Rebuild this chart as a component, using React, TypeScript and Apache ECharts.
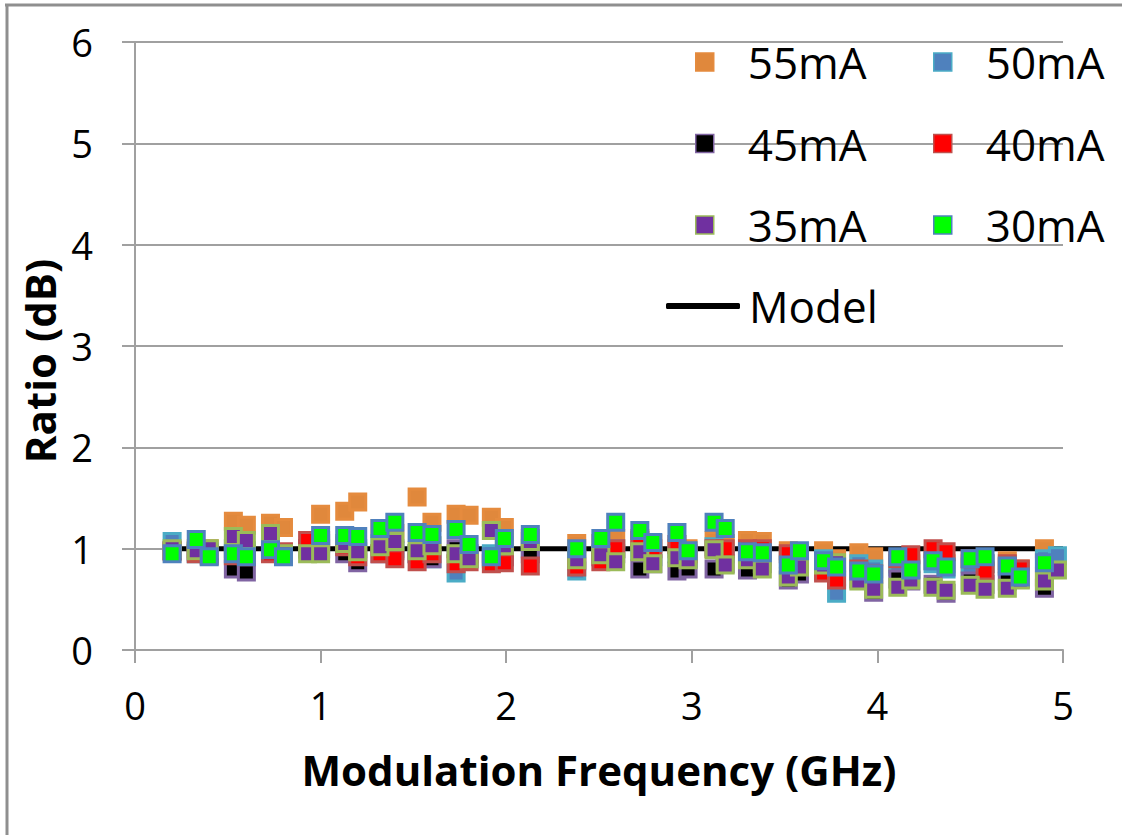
import React, { useEffect, useRef } from "react";
import * as echarts from "echarts";

const freqGHz = [
  0.2, 0.33, 0.4, 0.53, 0.6, 0.73, 0.8, 0.93, 1.0, 1.13, 1.2, 1.32, 1.4, 1.52, 1.6, 1.73, 1.8, 1.92, 1.99, 2.13,
  2.38, 2.51, 2.59, 2.72, 2.79, 2.92, 2.98, 3.12, 3.18, 3.3, 3.38, 3.52, 3.58, 3.71, 3.78, 3.9, 3.98, 4.11, 4.18,
  4.3, 4.37, 4.5, 4.58, 4.7, 4.77, 4.9, 4.97,
];

const ratio55 = [
  0.97, 1.0, 1.0, 1.27, 1.23, 1.25, 1.21, 1.0, 1.34, 1.37, 1.46, 1.2, 1.15, 1.51, 1.26, 1.34, 1.33, 1.31, 1.21, 1.1,
  1.05, 1.05, 1.1, 1.1, 1.05, 1.0, 1.0, 1.08, 1.05, 1.08, 1.07, 0.98, 0.95, 0.98, 0.9, 0.96, 0.92, 0.85, 0.85,
  0.88, 0.85, 0.85, 0.85, 0.88, 0.8, 1.0, null,
];
const ratio50 = [
  1.07, 0.95, 0.97, 1.0, 0.98, 1.02, 0.95, 1.0, 1.05, 1.03, 1.0, 1.05, 1.0, 0.95, 0.9, 0.76, 0.9, 0.95, 0.92, 1.0,
  0.78, 0.95, 1.0, 0.98, 0.92, 0.95, 0.9, 1.02, 0.95, 0.95, 0.92, 0.9, 0.92, 0.9, 0.56, 0.85, 0.8, 0.82, 0.8,
  0.85, 0.8, 0.82, 0.85, 0.82, 0.78, 0.9, 0.93,
];
const ratio45 = [
  0.98, 0.97, 0.95, 0.8, 0.77, 0.97, 0.95, 1.0, 1.0, 0.95, 0.86, 0.95, 0.98, 0.95, 0.9, 1.0, 0.95, 0.9, 0.92, 0.95,
  0.88, 0.92, 0.95, 0.8, 0.85, 0.78, 0.8, 0.8, 0.85, 0.79, 0.85, 0.69, 0.75, 0.78, 0.72, 0.7, 0.57, 0.7, 0.68,
  0.65, 0.56, 0.68, 0.65, 0.68, 0.7, 0.61, null,
];
const ratio40 = [
  0.98, 0.95, 0.93, 0.93, 0.92, 0.95, 0.97, 1.08, 1.08, 1.02, 0.92, 0.95, 0.9, 0.87, 0.95, 0.85, 0.87, 0.85, 0.86, 0.83,
  0.82, 0.87, 1.0, 1.08, 1.0, 1.04, 0.95, 1.0, 1.0, 1.0, 1.0, 0.95, 0.9, 0.76, 0.69, 0.8, 0.75, 0.9, 0.94,
  1.0, 0.97, 0.9, 0.78, 0.85, 0.8, 0.72, null,
];
const ratio35 = [
  1.0, 0.98, 1.0, 1.12, 1.08, 1.15, 0.95, 0.95, 0.95, 1.05, 0.97, 1.02, 1.07, 0.98, 1.03, 0.95, 0.9, 1.18, 1.03, 1.07,
  0.89, 0.94, 0.87, 0.97, 0.85, 0.91, 0.89, 0.99, 0.84, 0.89, 0.8, 0.72, 0.82, 0.84, 0.86, 0.68, 0.6, 0.62, 0.69,
  0.62, 0.59, 0.64, 0.6, 0.61, 0.69, 0.68, 0.79,
];
const ratio30 = [
  0.95, 1.09, 0.92, 0.95, 0.92, 0.99, 0.92, null, 1.13, 1.13, 1.12, 1.2, 1.26, 1.16, 1.14, 1.19, 1.04, 0.92, 1.1, 1.14,
  1.0, 1.1, 1.26, 1.18, 1.06, 1.16, 0.98, 1.26, 1.2, 0.97, 0.96, 0.84, 0.98, 0.88, 0.82, 0.78, 0.75, 0.92, 0.79,
  0.88, 0.82, 0.9, 0.92, 0.83, 0.72, 0.86, null,
];

const modelFreq = [0.2, 5];
const modelRatio = [1, 1];

const seriesNames = ["55mA", "50mA", "45mA", "40mA", "35mA", "30mA"];
const xTicks = [0, 1, 2, 3, 4, 5];
const yTicks = [0, 1, 2, 3, 4, 5, 6];

const FONT = "'Open Sans', 'Noto Sans', sans-serif";

export default function App() {
  const ref = useRef<HTMLDivElement>(null);

  useEffect(() => {
    if (!ref.current) return;
    const chart = echarts.init(ref.current, null, { renderer: "svg" });

    const values = [ratio55, ratio50, ratio45, ratio40, ratio35, ratio30];
    const fills = ["#E0883C", "#4F81BD", "#000000", "#FF0000", "#7030A0", "#00FF00"];
    const borders = ["#E58B3E", "#4BACC6", "#8064A2", "#C0504D", "#9BBB59", "#4F81BD"];

    const scatterSeries = seriesNames.map((name, i) => ({
      name,
      type: "scatter",
      symbol: "rect",
      symbolSize: 16,
      z: 3 + i,
      itemStyle: { color: fills[i], borderColor: borders[i], borderWidth: 3, opacity: 1 },
      data: freqGHz
        .map((f, k) => [f, values[i][k]])
        .filter((p) => p[1] !== null && p[1] !== undefined),
    }));

    const legendText = {
      fontFamily: FONT,
      fontSize: 44,
      color: "#000",
      lineHeight: 50,
      padding: [0, 0, 0, 29],
    };

    const legendBase = {
      orient: "vertical",
      selectedMode: false,
      padding: 0,
      itemWidth: 18,
      itemHeight: 18,
      itemGap: 31.5,
      icon: "rect",
      itemStyle: { borderWidth: 1.5 },
      textStyle: legendText,
    };

    chart.setOption({
      animation: false,
      backgroundColor: "#fff",
      grid: { left: 135, top: 42, right: 59, bottom: 185, containLabel: false },
      xAxis: {
        type: "value",
        min: xTicks[0],
        max: xTicks[xTicks.length - 1],
        interval: 1,
        name: "Modulation Frequency (GHz)",
        nameLocation: "middle",
        nameGap: 98,
        nameTextStyle: { fontFamily: FONT, fontSize: 42, fontWeight: "bold", color: "#000" },
        axisLine: { show: true, onZero: false, lineStyle: { color: "#a0a0a0", width: 2 } },
        axisTick: { show: true, inside: false, length: 13, lineStyle: { color: "#a0a0a0", width: 2 } },
        axisLabel: { fontFamily: FONT, fontSize: 38, color: "#000", margin: 36 },
        splitLine: { show: false },
      },
      yAxis: {
        type: "value",
        min: yTicks[0],
        max: yTicks[yTicks.length - 1],
        interval: 1,
        name: "Ratio (dB)",
        nameLocation: "middle",
        nameGap: 66,
        nameRotate: 90,
        nameTextStyle: {
          fontFamily: FONT,
          fontSize: 42,
          fontWeight: "bold",
          color: "#000",
          padding: [0, 30, 0, 0],
        },
        axisLine: { show: true, lineStyle: { color: "#a0a0a0", width: 2 } },
        axisTick: { show: true, inside: false, length: 13, lineStyle: { color: "#a0a0a0", width: 2 } },
        axisLabel: { fontFamily: FONT, fontSize: 38, color: "#000", margin: 42 },
        splitLine: { show: true, lineStyle: { color: "#a0a0a0", width: 2 } },
      },
      legend: [
        { ...legendBase, left: 695, top: 37, data: ["55mA", "45mA", "35mA"] },
        { ...legendBase, left: 933, top: 37, data: ["50mA", "40mA", "30mA"] },
        {
          ...legendBase,
          left: 666,
          top: 281,
          itemWidth: 74,
          itemHeight: 6,
          icon: "roundRect",
          itemStyle: { borderWidth: 0 },
          textStyle: { ...legendText, padding: [0, 0, 0, 4] },
          data: ["Model"],
        },
      ],
      graphic: [
        { type: "line", shape: { x1: 5, y1: 5, x2: 1122, y2: 5 }, style: { stroke: "#8f8f8f", lineWidth: 3 }, silent: true },
        { type: "line", shape: { x1: 7, y1: 4, x2: 7, y2: 835 }, style: { stroke: "#8f8f8f", lineWidth: 3 }, silent: true },
      ],
      series: [
        {
          name: "Model",
          type: "line",
          symbol: "none",
          z: 2,
          lineStyle: { color: "#000", width: 5, cap: "butt" },
          itemStyle: { color: "#000" },
          data: modelFreq.map((f, k) => [f, modelRatio[k]]),
        },
        ...scatterSeries,
      ],
    });

    return () => chart.dispose();
  }, []);

  return (
    <div
      ref={ref}
      style={{ position: "absolute", left: 0, top: 0, width: 1122, height: 835, background: "#fff" }}
    />
  );
}
